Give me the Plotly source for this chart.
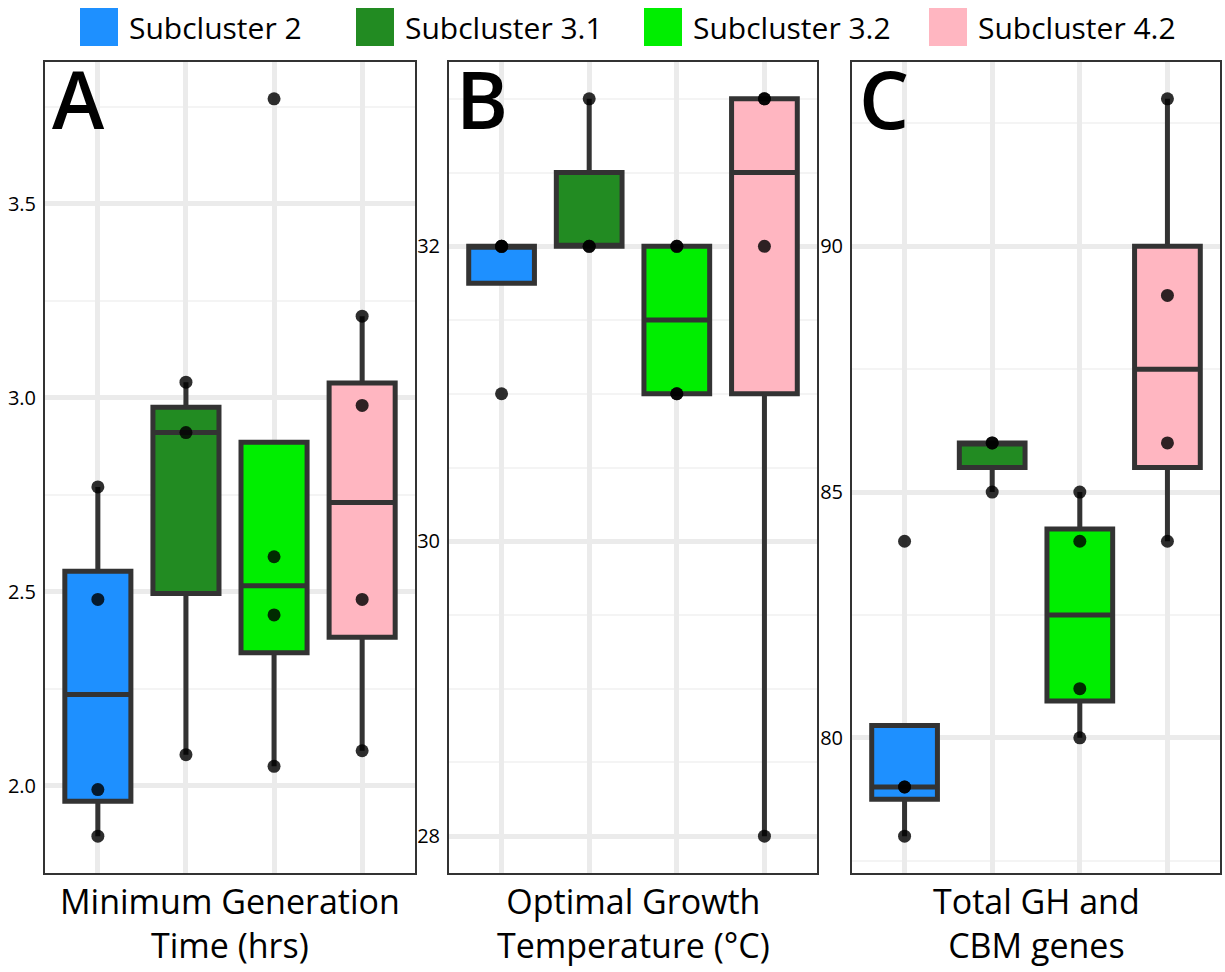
import numpy as np
import plotly.graph_objects as go

# Groups and fill colours
groups = ["Subcluster 2", "Subcluster 3.1", "Subcluster 3.2", "Subcluster 4.2"]
fills = ["#1E90FF", "#228B22", "#00EE00", "#FFB6C1"]

# Per-strain measurements, one list per subcluster
gen_time = [[1.87, 1.99, 2.48, 2.77],
            [2.08, 2.91, 3.04],
            [2.05, 2.44, 2.59, 3.77],
            [2.09, 2.48, 2.98, 3.21]]
opt_temp = [[31, 32, 32, 32],
            [32, 32, 33],
            [31, 31, 32, 32],
            [28, 32, 33, 33]]
gh_cbm = [[78, 79, 79, 84],
          [85, 86, 86],
          [80, 81, 84, 85],
          [84, 86, 89, 93]]

panel_letters = ["A", "B", "C"]
x_titles = ["Minimum Generation<br>Time (hrs)",
            "Optimal Growth<br>Temperature (°C)",
            "Total GH and<br>CBM genes"]
y_major = [[2.0, 2.5, 3.0, 3.5], [28, 30, 32], [80, 85, 90]]
y_minor = [[2.25, 2.75, 3.25, 3.75],
           [28.5, 29, 29.5, 30.5, 31, 31.5, 32.5, 33],
           [77.5, 82.5, 87.5, 92.5]]
y_fmt = [".1f", "d", "d"]

W, H = 1225, 972
FONT = "Open Sans"
INK = "#333333"

panels_px = [(45, 415), (449, 817), (852, 1220)]
top_px, bottom_px = 62, 873


def box_stats(vals):
    v = np.sort(np.asarray(vals, dtype=float))
    q1, med, q3 = np.percentile(v, [25, 50, 75])
    iqr = q3 - q1
    lo = v[v >= q1 - 1.5 * iqr].min()
    hi = v[v <= q3 + 1.5 * iqr].max()
    return q1, med, q3, min(lo, q1), max(hi, q3)


fig = go.Figure()
datasets = [gen_time, opt_temp, gh_cbm]

for p, data in enumerate(datasets):
    sfx = "" if p == 0 else str(p + 1)
    xa, ya = "x" + sfx, "y" + sfx
    for i, vals in enumerate(data):
        q1, med, q3, lo, hi = box_stats(vals)
        fig.add_trace(go.Box(
            x=[i + 1], q1=[q1], median=[med], q3=[q3],
            lowerfence=[lo], upperfence=[hi],
            width=0.75, whiskerwidth=0, boxpoints=False,
            fillcolor=fills[i], line=dict(color=INK, width=5),
            xaxis=xa, yaxis=ya, showlegend=False, hoverinfo="skip"))
    for i, vals in enumerate(data):
        fig.add_trace(go.Scatter(
            x=[i + 1] * len(vals), y=vals, mode="markers",
            marker=dict(color="rgba(0,0,0,0.82)", size=13, line=dict(width=0)),
            xaxis=xa, yaxis=ya, showlegend=False, hoverinfo="skip"))

    allv = np.concatenate([np.asarray(d, dtype=float) for d in data])
    span = allv.max() - allv.min()
    yr = [allv.min() - 0.05 * span, allv.max() + 0.05 * span]

    x0, x1 = panels_px[p]
    fig.update_layout(**{
        "xaxis" + sfx: dict(
            domain=[x0 / W, x1 / W], range=[0.4, 4.6], anchor=ya,
            tickvals=[1, 2, 3, 4], showticklabels=False, ticks="",
            showgrid=True, gridcolor="#EBEBEB", gridwidth=4.5, zeroline=False,
            showline=True, mirror=True, linecolor=INK, linewidth=2),
        "yaxis" + sfx: dict(
            domain=[1 - bottom_px / H, 1 - top_px / H], range=yr, anchor=xa,
            tickvals=y_major[p], tickformat=y_fmt[p], ticks="",
            ticklabelstandoff=3,
            tickfont=dict(family=FONT, size=20, color="black"),
            showgrid=True, gridcolor="#EBEBEB", gridwidth=4.5, zeroline=False,
            minor=dict(tickvals=y_minor[p], showgrid=True,
                       gridcolor="#F4F4F4", gridwidth=2, ticks=""),
            showline=True, mirror=True, linecolor=INK, linewidth=2),
    })

    # panel letter
    fig.add_annotation(text=panel_letters[p], xref=xa + " domain", yref=ya + " domain",
                       x=0.014, y=1.0, yshift=19, xanchor="left", yanchor="top",
                       showarrow=False,
                       font=dict(family=FONT, size=79, color="black", weight=600))
    # two-line axis title
    cx = (x0 + x1) / 2 / W
    fig.add_annotation(text=x_titles[p], xref="paper", yref="paper",
                       x=cx, y=1 - 923 / H,
                       xanchor="center", yanchor="middle", showarrow=False,
                       font=dict(family=FONT, size=34, color="black"))

# legend row across the top
leg_sq = [80, 356, 644, 929]
for i, g in enumerate(groups):
    fig.add_shape(type="rect", xref="paper", yref="paper",
                  x0=leg_sq[i] / W, x1=(leg_sq[i] + 38) / W,
                  y0=1 - 46 / H, y1=1 - 8 / H,
                  fillcolor=fills[i], line=dict(width=0))
    fig.add_annotation(text=g, xref="paper", yref="paper",
                       x=(leg_sq[i] + 47) / W, y=1 - 27 / H,
                       xanchor="left", yanchor="middle", showarrow=False,
                       font=dict(family=FONT, size=30, color="black"))

fig.update_layout(width=W, height=H, margin=dict(l=0, r=0, t=0, b=0),
                  paper_bgcolor="white", plot_bgcolor="white",
                  showlegend=False, font=dict(family=FONT))

fig.write_html("out.html")
